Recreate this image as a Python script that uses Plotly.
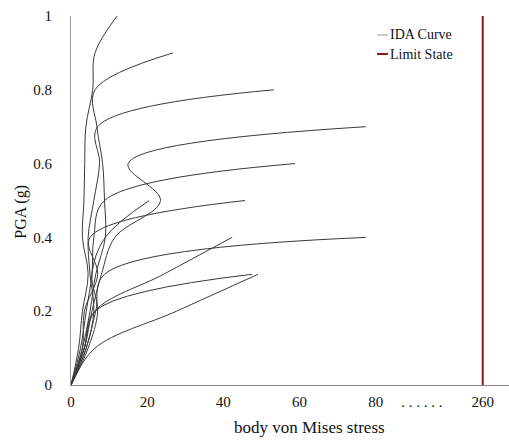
import plotly.graph_objects as go

# PGA steps (g) for the incremental dynamic analysis runs
PGA_STEPS = [0.0, 0.1, 0.2, 0.3, 0.4, 0.5, 0.6, 0.7, 0.8, 0.9, 1.0]

# body von Mises stress of each record at every PGA step (until the run stops)
ida_1 = [0, 2.0, 3.0, 4.5, 3.0, 3.4, 3.6, 3.9, 5.7, 6.3, 12.1]
ida_2 = [0, 3.0, 5.0, 6.5, 9.0, 8.8, 8.3, 6.8, 6.3, 26.8]
ida_3 = [0, 4.0, 6.0, 5.0, 4.5, 6.0, 7.5, 7.0, 53.3]
ida_4 = [0, 3.5, 5.5, 8.0, 11.5, 23.5, 15.0, 77.4]
ida_5 = [0, 2.5, 4.0, 5.5, 6.0, 8.8, 58.8]
ida_6 = [0, 3.0, 3.5, 7.0, 5.0, 45.7]
ida_7 = [0, 4.5, 7.0, 5.5, 9.0, 20.5]
ida_8 = [0, 3.5, 6.3, 24.3, 42.3]
ida_9 = [0, 4.0, 6.5, 8.8, 77.4]
ida_10 = [0, 3.5, 6.3, 47.5]
ida_11 = [0, 6.3, 27.7, 49.1]
IDA_RUNS = [ida_1, ida_2, ida_3, ida_4, ida_5, ida_6, ida_7, ida_8, ida_9, ida_10, ida_11]

# limit state stress and where it sits on the broken x axis
LIMIT_STATE = 260
LIMIT_POS = 108.1
BREAK_POS = 92.1

x_ticks = [0, 20, 40, 60, 80]
y_ticks = [0, 0.2, 0.4, 0.6, 0.8, 1]

SERIF = "Liberation Serif, Times New Roman, serif"
IDA_COLOR = "#3a3a3a"
LIMIT_COLOR = "#8b1a1a"

fig = go.Figure()

for run in IDA_RUNS:
    fig.add_trace(go.Scatter(
        x=run, y=PGA_STEPS[:len(run)], mode="lines",
        line=dict(color=IDA_COLOR, width=1, shape="spline", smoothing=1.0),
        showlegend=False, hoverinfo="skip",
    ))

fig.add_trace(go.Scatter(
    x=[LIMIT_POS, LIMIT_POS], y=[0, 1], mode="lines",
    line=dict(color=LIMIT_COLOR, width=2),
    showlegend=False, hovertext=f"Limit State: {LIMIT_STATE}",
))

tickvals = x_ticks + [BREAK_POS, LIMIT_POS]
ticktext = [str(v) for v in x_ticks] + [". . . . . .", str(LIMIT_STATE)]

fig.update_layout(
    width=509, height=445,
    margin=dict(l=71, r=0, t=16, b=60),
    plot_bgcolor="white", paper_bgcolor="white",
    font=dict(family=SERIF, size=15, color="#111"),
    xaxis=dict(
        range=[0, 115], tickvals=tickvals, ticktext=ticktext,
        showgrid=False, zeroline=False, ticks="",
        showline=True, linecolor="#888", linewidth=1,
        ticklabelstandoff=3, fixedrange=True,
    ),
    yaxis=dict(
        range=[0, 1], tickvals=y_ticks, ticktext=["0", "0.2", "0.4", "0.6", "0.8", "1"],
        showgrid=False, zeroline=False, ticks="",
        showline=True, linecolor="#999", linewidth=1,
        ticklabelstandoff=15, fixedrange=True,
    ),
    showlegend=False,
)

# axis titles
fig.add_annotation(text="body von Mises stress", xref="paper", yref="paper",
                   x=0.545, y=-0.115, xanchor="center", yanchor="middle",
                   showarrow=False, font=dict(family=SERIF, size=17, color="#111"))
fig.add_annotation(text="PGA (g)", xref="paper", yref="paper",
                   x=-0.116, y=0.47, textangle=-90, xanchor="center", yanchor="middle",
                   showarrow=False, font=dict(family=SERIF, size=16, color="#111"))

# legend drawn as short line keys with labels
legend_items = [("IDA Curve", "#9a9a9a", 1, 35), ("Limit State", LIMIT_COLOR, 2, 54)]
for label, color, width, ypx in legend_items:
    yp = 1 - (ypx - 16) / 369
    xa = (377 - 71) / 438
    xb = (388 - 71) / 438
    fig.add_shape(type="line", xref="paper", yref="paper", x0=xa, x1=xb, y0=yp, y1=yp,
                  line=dict(color=color, width=width))
    fig.add_annotation(text=label, xref="paper", yref="paper", x=xb, y=yp,
                       xanchor="left", yanchor="middle", showarrow=False,
                       font=dict(family=SERIF, size=14, color="#111"))

fig.write_html("out.html")
